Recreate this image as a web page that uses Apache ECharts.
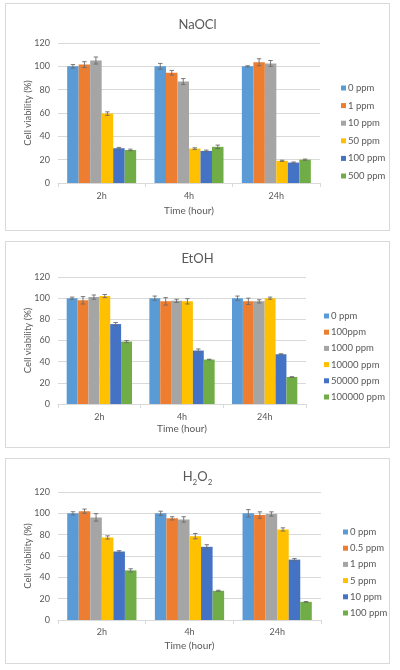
<!DOCTYPE html>
<html>
<head>
<meta charset="utf-8">
<script src="https://cdn.jsdelivr.net/npm/echarts@6/dist/echarts.min.js"></script>
<style>
  html, body { margin: 0; padding: 0; background: #fff; width: 400px; height: 670px; overflow: hidden; }
  .panel { position: absolute; left: 5px; width: 385px; box-sizing: border-box; border: 1px solid #D9D9D9; background: #fff; }
  .panel div.c { width: 100%; height: 100%; }
</style>
</head>
<body>
<div class="panel" id="p1" style="top:3px;height:228px;"><div class="c" id="c1"></div></div>
<div class="panel" id="p2" style="top:241px;height:207px;"><div class="c" id="c2"></div></div>
<div class="panel" id="p3" style="top:458px;height:206px;"><div class="c" id="c3"></div></div>
<script>
// ---- data ----
const categories = ['2h', '4h', '24h'];
const yTicks = [0, 20, 40, 60, 80, 100, 120];

const naoclNames = ['0 ppm', '1 ppm', '10 ppm', '50 ppm', '100 ppm', '500 ppm'];
const naoclValues = [
  [100, 100, 100],
  [101.5, 94.5, 103.5],
  [105, 87, 102.5],
  [59.5, 29.5, 19],
  [29.8, 27.5, 17.5],
  [28.3, 31, 20]
];
const naoclErrors = [
  [1.5, 2.5, 0.5],
  [2.5, 2, 3],
  [3, 2.5, 2.5],
  [1.5, 0.7, 0.5],
  [0.7, 0.7, 0.5],
  [0.7, 1.5, 0.5]
];

const etohNames = ['0 ppm', '100ppm', '1000 ppm', '10000 ppm', '50000 ppm', '100000 ppm'];
const etohValues = [
  [100, 100, 100],
  [98, 97, 97],
  [101, 97.5, 97],
  [102, 97, 100],
  [75.5, 50.5, 47],
  [59, 42, 25.5]
];
const etohErrors = [
  [1, 2, 2],
  [3.5, 3.5, 3],
  [2, 1.5, 1.5],
  [1.5, 2.5, 1],
  [1.5, 1.5, 0.5],
  [1, 0.3, 0.3]
];

const h2o2Names = ['0 ppm', '0.5 ppm', '1 ppm', '5 ppm', '10 ppm', '100 ppm'];
const h2o2Values = [
  [100, 100, 100],
  [102, 95.3, 98.4],
  [96.2, 94.3, 99.4],
  [77.4, 78.6, 84.9],
  [64.2, 68.6, 56.6],
  [46.5, 27.4, 17]
];
const h2o2Errors = [
  [1.5, 2, 3.5],
  [2, 1.5, 3],
  [3.5, 2.5, 2],
  [1.5, 2.5, 1.5],
  [0.8, 2, 1],
  [1.5, 0.5, 0.3]
];

// ---- styling ----
const colors = ['#5B9BD5', '#ED7D31', '#A5A5A5', '#FFC000', '#4472C4', '#70AD47'];
const FONT = 'Lato, "Liberation Sans", sans-serif';
const TEXT = '#595959';
const GRIDC = '#D9D9D9';
const GAP = 0.21;

function build(elId, cfg) {
  const chart = echarts.init(document.getElementById(elId), null, { renderer: 'canvas' });
  const nS = cfg.names.length;
  const series = cfg.names.map((n, i) => ({
    name: n,
    type: 'bar',
    data: cfg.values[i],
    barGap: '0%',
    barCategoryGap: (GAP * 100) + '%',
    itemStyle: { color: colors[i] },
    silent: true
  }));
  const errData = [];
  cfg.names.forEach((n, si) => {
    categories.forEach((c, ci) => {
      errData.push([ci, si, cfg.values[si][ci], cfg.errors[si][ci]]);
    });
  });
  series.push({
    type: 'custom',
    silent: true,
    z: 10,
    encode: { x: 0, y: 2 },
    data: errData,
    renderItem: function (params, api) {
      const ci = api.value(0), si = api.value(1), v = api.value(2), e = api.value(3);
      const band = api.size([1, 0])[0];
      const bw = band * (1 - GAP) / nS;
      const cx = api.coord([ci, 0])[0] + (si - (nS - 1) / 2) * bw;
      const yt = api.coord([ci, v + e])[1];
      const yb = api.coord([ci, v - e])[1];
      const cap = 2.2;
      const st = { stroke: '#6b6b6b', lineWidth: 0.9 };
      return {
        type: 'group',
        children: [
          { type: 'line', shape: { x1: cx, y1: yt, x2: cx, y2: yb }, style: st },
          { type: 'line', shape: { x1: cx - cap, y1: yt, x2: cx + cap, y2: yt }, style: st },
          { type: 'line', shape: { x1: cx - cap, y1: yb, x2: cx + cap, y2: yb }, style: st }
        ]
      };
    }
  });
  chart.setOption({
    animation: false,
    backgroundColor: '#fff',
    textStyle: { fontFamily: FONT },
    title: {
      text: cfg.title,
      left: 'center',
      top: cfg.titleTop,
      textStyle: Object.assign({ fontFamily: FONT, fontSize: 13, fontWeight: 'normal', color: TEXT }, cfg.titleStyle || {})
    },
    legend: {
      orient: 'vertical',
      left: cfg.legendLeft,
      top: cfg.legendTop,
      itemWidth: 5,
      itemHeight: 5,
      itemGap: cfg.legendGap,
      icon: 'rect',
      data: cfg.names,
      textStyle: { fontFamily: FONT, fontSize: 9.5, color: TEXT, lineHeight: 12, padding: [0, 0, 0, -3] },
      selectedMode: false
    },
    grid: { left: 52, top: cfg.gridTop, width: cfg.gridWidth, height: cfg.gridHeight },
    xAxis: {
      type: 'category',
      data: categories,
      name: 'Time (hour)',
      nameLocation: 'middle',
      nameGap: cfg.nameGap,
      nameMoveOverlap: false,
      nameTextStyle: { fontFamily: FONT, fontSize: 10, color: TEXT },
      axisLine: { lineStyle: { color: GRIDC } },
      axisTick: { show: true, length: 4, lineStyle: { color: GRIDC } },
      axisLabel: { fontFamily: FONT, fontSize: 9, color: TEXT, margin: cfg.labelMargin }
    },
    yAxis: {
      type: 'value',
      min: yTicks[0],
      max: yTicks[yTicks.length - 1],
      interval: yTicks[1] - yTicks[0],
      name: 'Cell viability (%)',
      nameLocation: 'middle',
      nameGap: 25,
      nameMoveOverlap: false,
      nameTextStyle: { fontFamily: FONT, fontSize: 9.5, color: TEXT },
      axisLine: { show: false },
      axisTick: { show: false },
      axisLabel: { fontFamily: FONT, fontSize: 9, color: TEXT, margin: 8 },
      splitLine: { lineStyle: { color: GRIDC, width: 1 } }
    },
    series: series
  });
}

build('c1', {
  title: 'NaOCl', titleTop: 9,
  names: naoclNames, values: naoclValues, errors: naoclErrors,
  gridTop: 39, gridWidth: 262, gridHeight: 140,
  legendLeft: 330, legendTop: 73, legendGap: 5.6,
  labelMargin: 9, nameGap: 23
});
build('c2', {
  title: 'EtOH', titleTop: 5,
  names: etohNames, values: etohValues, errors: etohErrors,
  gridTop: 35, gridWidth: 248, gridHeight: 127,
  legendLeft: 313, legendTop: 63, legendGap: 4.2,
  labelMargin: 9, nameGap: 20
});
build('c3', {
  title: '{n|H}{s|2}{n|O}{s|2}', titleTop: 6,
  titleStyle: {
    rich: {
      n: { fontFamily: FONT, fontSize: 13, color: TEXT, lineHeight: 16, verticalAlign: 'top' },
      s: { fontFamily: FONT, fontSize: 8, color: TEXT, lineHeight: 8, verticalAlign: 'bottom' }
    }
  },
  names: h2o2Names, values: h2o2Values, errors: h2o2Errors,
  gridTop: 33, gridWidth: 263, gridHeight: 128,
  legendLeft: 332, legendTop: 62, legendGap: 4.2,
  labelMargin: 8, nameGap: 21
});
</script>
</body>
</html>
